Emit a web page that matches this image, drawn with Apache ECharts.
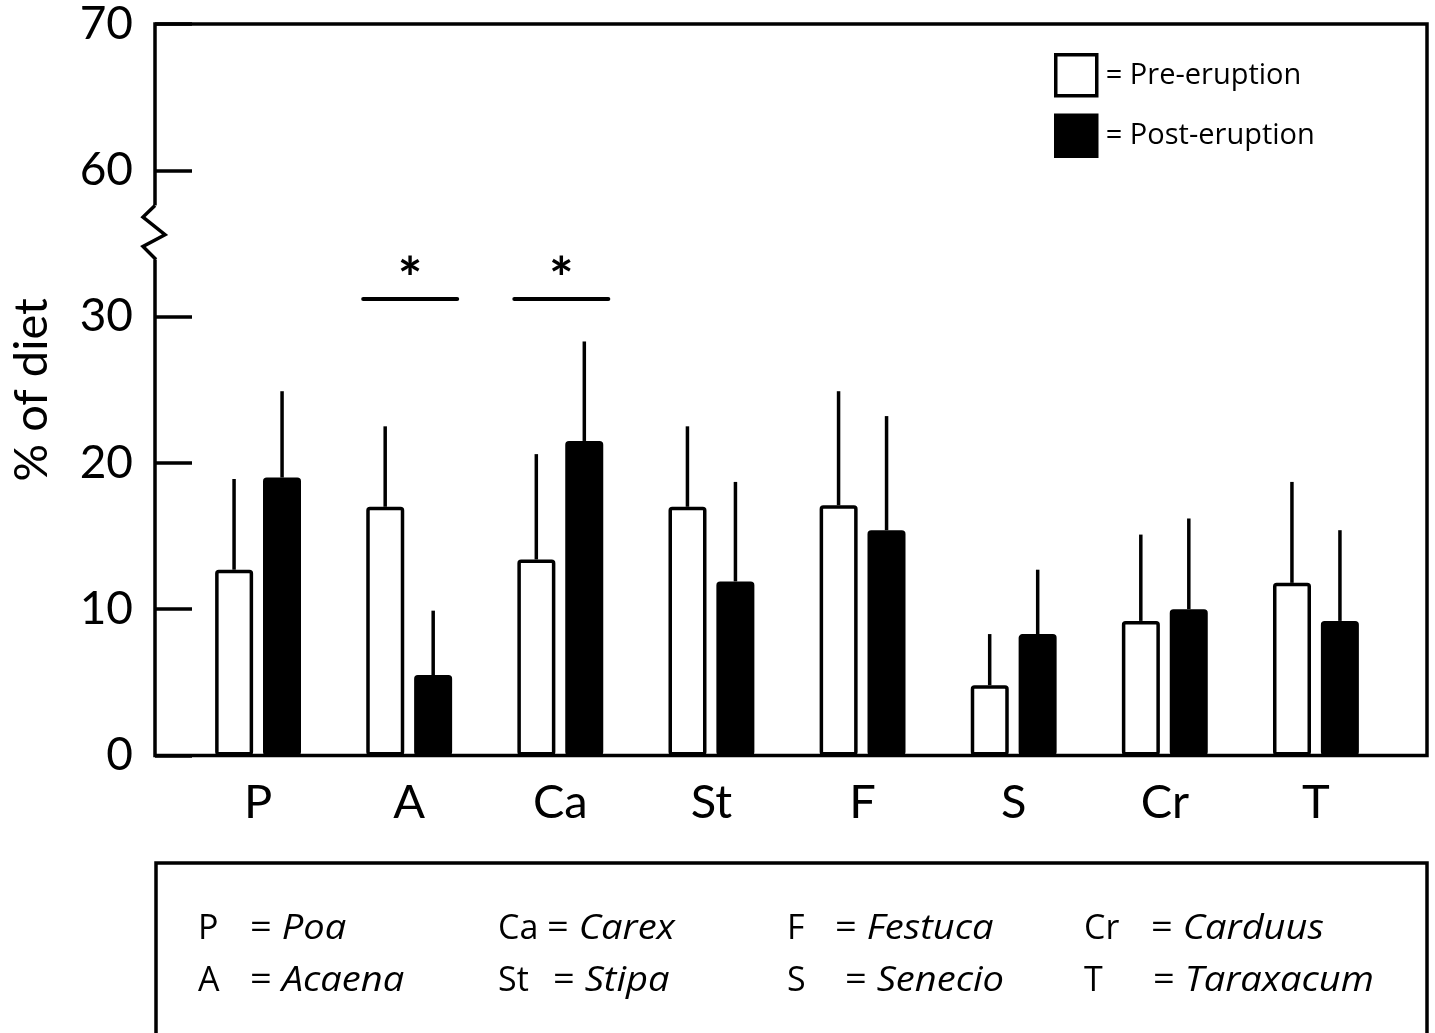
<!DOCTYPE html>
<html><head><meta charset="utf-8">
<script src="https://cdn.jsdelivr.net/npm/echarts@6/dist/echarts.min.js"></script>
<style>html,body{margin:0;padding:0;background:#fff}#c{width:1435px;height:1033px}</style>
</head><body><div id="c"></div>
<script>
// ---- data ----
const categories = ['P', 'A', 'Ca', 'St', 'F', 'S', 'Cr', 'T'];
const genera = ['Poa', 'Acaena', 'Carex', 'Stipa', 'Festuca', 'Senecio', 'Carduus', 'Taraxacum'];
const preMean  = [12.7, 17.0, 13.4, 17.0, 17.1, 4.8, 9.2, 11.8];
const preSD    = [6.2, 5.5, 7.2, 5.5, 7.8, 3.5, 5.9, 6.9];
const postMean = [19.0, 5.5, 21.5, 11.9, 15.4, 8.3, 10.0, 9.2];
const postSD   = [5.9, 4.4, 6.8, 6.8, 7.8, 4.4, 6.2, 6.2];
// broken axis: display ticks 0..50 show these labels
const yTickLabels = ['0', '10', '20', '30', '60', '70'];
const significant = ['A', 'Ca'];
const sigLevel = 31.2;
const seriesNames = ['Pre-eruption', 'Post-eruption'];

// ---- style / layout ----
const FONT = 'Lato';
const FONT2 = 'Open Sans';
const BAR_W = 38, BAR_OFF = 24, LW = 3.5;
const GRID_TOP = 24, GRID_H = 731.5;

const chart = echarts.init(document.getElementById('c'), null, {renderer: 'canvas'});

function errSeries(means, sds, dir) {
  return {
    type: 'custom', xAxisIndex: 1, yAxisIndex: 1, z: 1, silent: true,
    data: means.map((m, i) => [i, m, m + sds[i]]),
    renderItem(params, api) {
      const p0 = api.coord([api.value(0), api.value(1)]);
      const p1 = api.coord([api.value(0), api.value(2)]);
      const x = p0[0] + dir * BAR_OFF;
      return {type: 'line', shape: {x1: x, y1: p0[1], x2: x, y2: p1[1]},
              style: {stroke: '#000', lineWidth: LW}};
    }
  };
}

const option = {
  backgroundColor: '#fff',
  animation: false,
  textStyle: {fontFamily: FONT, color: '#000'},
  grid: [
    {left: 155, top: GRID_TOP, width: 1272, height: GRID_H, show: true,
     borderColor: '#000', borderWidth: LW, backgroundColor: 'transparent'},
    {left: 182.5, top: GRID_TOP, width: 1209, height: GRID_H}
  ],
  xAxis: [
    {gridIndex: 0, type: 'value', min: 0, max: 1, show: false},
    {gridIndex: 1, type: 'category', data: categories,
     axisLine: {show: false}, axisTick: {show: false},
     axisLabel: {fontFamily: FONT, fontSize: 47, color: '#000', margin: 24}}
  ],
  yAxis: [
    {gridIndex: 0, type: 'value', min: 0, max: 50, interval: 10,
     name: '% of diet', nameLocation: 'middle', nameGap: 100, nameRotate: 90,
     nameTextStyle: {fontFamily: FONT, fontSize: 47, color: '#000'},
     axisLine: {show: false}, splitLine: {show: false},
     axisTick: {show: true, inside: true, length: 37, lineStyle: {color: '#000', width: LW}},
     axisLabel: {fontFamily: FONT, fontSize: 46, color: '#000', margin: 22,
                 formatter: v => yTickLabels[Math.round(v / 10)]}},
    {gridIndex: 1, type: 'value', min: 0, max: 50, interval: 10, show: false}
  ],
  legend: {
    orient: 'vertical', left: 1054, top: 53, padding: 0,
    itemWidth: 41, itemHeight: 41, itemGap: 16,
    icon: 'rect', data: seriesNames,
    formatter: n => '= ' + n,
    itemStyle: {borderColor: '#000', borderWidth: LW},
    textStyle: {fontFamily: FONT2, fontSize: 29, color: '#000', padding: [0, 0, 0, 4]}
  },
  series: [
    {name: seriesNames[0], type: 'bar', xAxisIndex: 1, yAxisIndex: 1, data: preMean,
     barWidth: BAR_W, barGap: '26%', z: 2,
     itemStyle: {color: '#fff', borderColor: '#000', borderWidth: LW, borderRadius: 2}},
    {name: seriesNames[1], type: 'bar', xAxisIndex: 1, yAxisIndex: 1, data: postMean,
     barWidth: BAR_W, barGap: '26%', z: 2,
     itemStyle: {color: '#000', borderColor: '#000', borderWidth: LW, borderRadius: 2}},
    errSeries(preMean, preSD, -1),
    errSeries(postMean, postSD, 1),
    {type: 'custom', xAxisIndex: 1, yAxisIndex: 1, silent: true, z: 3,
     data: significant.map(c => [categories.indexOf(c), sigLevel]),
     renderItem(params, api) {
       const p = api.coord([api.value(0), api.value(1)]);
       return {type: 'group', children: [
         {type: 'line', shape: {x1: p[0] - 46, y1: p[1], x2: p[0] + 48, y2: p[1]},
          style: {stroke: '#000', lineWidth: 4, lineCap: 'round'}},
         {type: 'text', x: p[0] + 1, y: p[1] - 19,
          style: {text: '*', fontFamily: FONT, fontSize: 58, fontWeight: 'bold', fill: '#000',
                  align: 'center', verticalAlign: 'middle'}}
       ]};
     }}
  ]
};
chart.setOption(option);

// ---- decorations: axis break and species key ----
const axX = chart.convertToPixel({xAxisIndex: 0}, 0);
const yp = v => chart.convertToPixel({yAxisIndex: 0}, v);
const zz = [[0, 37.6], [-12, 36.8], [10, 35.6], [-12, 34.8], [1, 33.9]].map(d => [axX + d[0], yp(d[1])]);
const graphics = [
  {type: 'rect', shape: {x: axX - 4, y: yp(37.6), width: 8, height: yp(33.9) - yp(37.6)},
   style: {fill: '#fff'}, z: 100},
  {type: 'polyline', shape: {points: zz}, style: {stroke: '#000', lineWidth: LW, fill: null}, z: 101},
  {type: 'rect', shape: {x: 156, y: 863, width: 1271, height: 220},
   style: {stroke: '#000', lineWidth: LW, fill: 'none'}, z: 100}
];
const colX = [198, 498, 787, 1084];
const rowY = [929, 981];
const eqOff = [52, 52, 49, 55, 48, 58, 67, 69];
const KEY_FS = 34, KEY_SX = 1.12;
categories.forEach((c, i) => {
  const x = colX[Math.floor(i / 2)], y = rowY[i % 2];
  graphics.push({type: 'text', x: x, y: y, z: 101,
    style: {text: c, fontFamily: FONT2, fontSize: KEY_FS, fill: '#000', verticalAlign: 'middle'}});
  graphics.push({type: 'text', x: x + eqOff[i], y: y, z: 101, scaleX: KEY_SX,
    style: {text: '= {i|' + genera[i] + '}', fontFamily: FONT2, fontSize: KEY_FS, fill: '#000',
            verticalAlign: 'middle',
            rich: {i: {fontStyle: 'italic', fontFamily: FONT2, fontSize: KEY_FS, fill: '#000'}}}});
});
chart.setOption({graphic: graphics});
</script>
</body></html>
